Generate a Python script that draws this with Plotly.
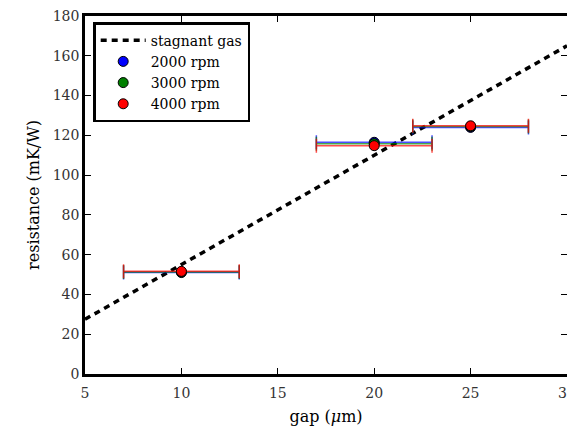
import plotly.graph_objects as go

gap = [10, 20, 25]
gap_err = [3, 3, 3]
r2000 = [51.0, 116.5, 124.0]
r3000 = [51.3, 115.8, 124.4]
r4000 = [51.6, 114.8, 124.8]
stag_x = [5, 30]
stag_y = [27.5, 165.0]

series = [
    ("2000 rpm", r2000, "blue", "rgba(0,0,255,0.7)"),
    ("3000 rpm", r3000, "green", "rgba(0,128,0,0.7)"),
    ("4000 rpm", r4000, "red", "rgba(255,0,0,0.7)"),
]

fig = go.Figure()
fig.add_trace(go.Scatter(x=stag_x, y=stag_y, mode="lines", name="stagnant gas",
                         line=dict(color="black", width=3.5, dash="6px,5px")))
for name, ys, c, ec in series:
    fig.add_trace(go.Scatter(
        x=gap, y=ys, mode="markers", name=name,
        marker=dict(color=c, size=10, line=dict(color="black", width=1)),
        error_x=dict(type="data", array=gap_err, color=ec, thickness=1.5, width=7),
    ))

font = "DejaVu Serif, Liberation Serif, serif"
fig.update_layout(
    width=575, height=431,
    margin=dict(l=77, r=16, t=8, b=65),
    plot_bgcolor="white", paper_bgcolor="white",
    font=dict(family=font, size=15, color="black"),
    showlegend=True,
    legend=dict(x=0.017, y=0.983, xanchor="left", yanchor="top",
                bordercolor="black", borderwidth=2.5, bgcolor="white",
                font=dict(size=14), itemwidth=45, tracegroupgap=0),
)
axis_common = dict(showline=True, linecolor="black", linewidth=2.5, mirror="ticks",
                   ticks="inside", ticklen=6, tickcolor="black", tickwidth=1,
                   showgrid=False, zeroline=False, automargin=False,
                   ticklabeloverflow="allow",
                   tickfont=dict(family=font, size=14, color="#333"))
fig.update_xaxes(range=[5, 30], dtick=5, ticklabelstandoff=4,
                 title=dict(text="gap (<i>μ</i>m)", font=dict(size=16), standoff=12), **axis_common)
fig.update_yaxes(range=[0, 180], dtick=20,
                 title=dict(text="resistance (mK/W)", font=dict(size=16), standoff=10), **axis_common)

fig.write_html("out.html")
